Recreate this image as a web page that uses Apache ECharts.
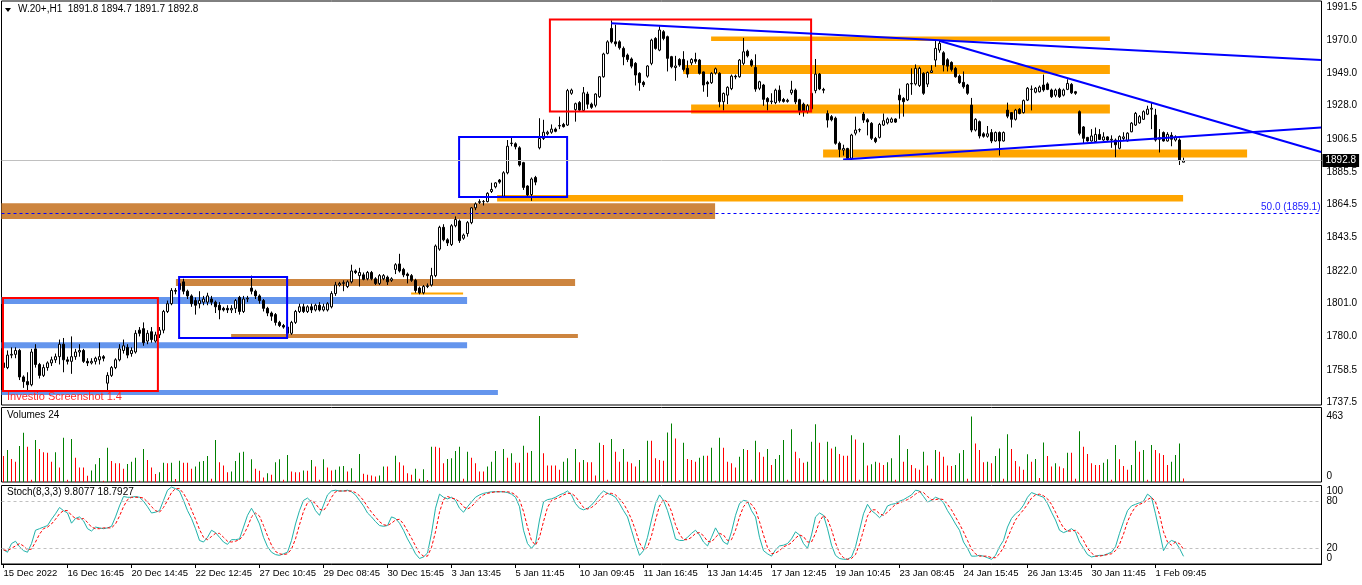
<!DOCTYPE html>
<html><head><meta charset="utf-8">
<script src="https://cdn.jsdelivr.net/npm/echarts@6/dist/echarts.min.js"></script>
<style>html,body{margin:0;padding:0;background:#fff}#c{width:1362px;height:585px}</style>
</head><body><div id="c"></div>
<script>
const timeLabels = ["15 Dec 2022","16 Dec 16:45","20 Dec 14:45","22 Dec 12:45","27 Dec 10:45","29 Dec 08:45","30 Dec 15:45","3 Jan 13:45","5 Jan 11:45","10 Jan 09:45","11 Jan 16:45","13 Jan 14:45","17 Jan 12:45","19 Jan 10:45","23 Jan 08:45","24 Jan 15:45","26 Jan 13:45","30 Jan 11:45","1 Feb 09:45"];
const priceTicks = [1737.5,1758.5,1780.0,1801.0,1822.0,1843.5,1864.5,1885.5,1906.5,1928.0,1949.0,1970.0,1991.5];
const volumeTicks = [0,463];
const stochInnerTicks = [20,80];
const stochOuterTicks = [0,100];
const stochLevels = [20,80];
const symbolName = "W.20+,H1";
const lastPrice = 1892.8;
const fibLevel = 1859.1;
const fibText = "50.0 (1859.1)";

// [open, close, low, high]
const candles = [
[1763,1760,1757,1766],[1760,1768,1759,1771],[1768,1768.5,1766,1773],[1768.5,1771,1766,1773],[1771,1754,1752,1772],
[1754,1751,1747,1755],[1751,1749,1745,1757],[1749,1770,1748,1772],[1772,1762,1760,1775],[1762,1755,1753,1763],
[1755,1760,1754,1762],[1760,1763,1758,1764],[1763,1765,1761,1767],[1765,1767,1763,1769],[1767,1775,1762,1778],
[1775,1765,1757,1779],[1765,1764,1762,1767],[1764,1767,1756,1780],[1767,1770,1765,1772],[1770,1771,1767,1775],
[1771,1764,1763,1772],[1764,1763,1761,1766],[1763,1764,1762,1766],[1764,1766,1762,1767],[1765,1767,1762,1776],
[1767,1766,1764,1768],[1750,1755,1745,1757],[1755,1760,1754,1761],[1760,1765,1759,1766],[1765,1772,1764,1775],
[1771,1774,1769,1778],[1773,1768,1766,1775],[1769,1771,1767,1773],[1770,1782,1769,1784],[1784,1782,1780,1786],
[1785,1776,1774,1789],[1777,1782,1775,1784],[1783,1778,1776,1786],[1777,1781,1776,1783],[1781,1784,1779,1786],
[1784,1796,1782,1797],[1796,1801,1795,1803],[1801,1809.5,1800,1811],[1809.5,1809,1807,1811],[1810,1814,1808,1817],
[1815,1809,1807,1817],[1809,1806,1804,1810],[1806,1801,1799,1807],[1803,1800,1794,1805],[1801,1803,1798,1809],
[1802,1804,1800,1806],[1802,1806,1800,1808],[1804,1802,1800,1806],[1802,1799,1795,1803],[1800,1797,1791,1802],
[1798,1797,1796,1799],[1798,1797,1795,1800],[1797,1798,1795,1800],[1798,1803,1795,1804],[1805,1796,1794,1806],
[1796,1804,1795,1806],[1804,1804.5,1802,1806],[1811,1809,1807,1819],[1809,1806,1804,1810],[1806,1803,1801,1807],
[1803,1798,1796,1804],[1798,1795,1793,1799],[1795,1793,1790,1796],[1794,1789,1787,1795],[1789,1787,1786,1790],
[1787,1786,1785,1788],[1786,1782,1780,1787],[1782,1789,1781,1790],[1789,1796,1788,1797],[1796,1799,1795,1801],
[1799,1796,1795,1801],[1796,1799,1795,1800],[1799,1797,1795,1801],[1797,1800,1796,1801],[1800,1797,1796,1802],
[1797,1799,1796,1801],[1797,1801,1796,1802],[1799,1807.5,1798,1809],[1807.5,1813,1806,1815],[1813,1814,1812,1815],
[1814,1814.5,1809,1816],[1812,1815,1811,1816],[1815,1822,1814,1826],[1822,1821,1820,1823],[1819,1821,1812,1824],
[1819.5,1816.6,1816,1821],[1817,1821,1816,1822],[1821,1817,1816,1822],[1817,1814,1813,1818],[1814,1819,1813,1820],
[1817,1819,1816,1820],[1818,1815,1813,1819],[1816,1817,1815,1818],[1823,1826,1820,1827],[1826.5,1822,1821,1833],
[1823,1819.5,1818,1824],[1820,1819,1814,1821],[1819,1816,1815,1820],[1816,1809.5,1808,1817],[1811,1808,1807,1812],
[1808,1812,1807,1813],[1812,1812.5,1811,1814],[1813,1819,1812,1824],[1819,1838,1818,1839],[1836,1850,1835,1851],
[1850,1842,1841,1852],[1842,1840,1838,1843],[1839,1851,1838,1852],[1851,1855,1850,1857],[1854,1841.5,1840,1855],
[1843,1845,1842,1846],[1846,1853,1844,1854],[1853,1862.5,1852,1863],[1862.5,1865,1861,1866],[1866,1866.5,1865,1868],
[1866.5,1866.5,1864,1867.5],[1866.5,1871.8,1866,1872.5],[1873,1874.3,1872,1878.6],[1876,1878.5,1875,1879],[1880.3,1879,1878,1881],
[1870,1885,1869,1886],[1885,1902,1884,1906],[1904,1903.8,1902,1908],[1903.6,1901.7,1900,1904.5],[1901,1890,1889,1902],
[1891.5,1875.6,1874,1892],[1876.5,1870.7,1869,1877],[1871,1881,1867,1882],[1882,1879,1877,1883],[1901,1907,1900,1920],
[1907,1911,1906,1919],[1910,1911,1909,1912],[1911,1913,1910,1916],[1913,1911.6,1911,1914],[1915,1915.3,1913,1921],
[1916,1914.6,1914,1917],[1915.6,1937.7,1915,1938.8],[1936,1938,1935,1939],[1925.6,1929.3,1917.8,1930],[1930,1925.2,1924,1931],
[1925,1936.3,1924,1940],[1935.5,1929,1926,1937],[1929,1927,1926,1930],[1928.3,1935.5,1927,1936],[1933.8,1946.6,1933,1947],
[1946.6,1961.2,1946,1962],[1961.6,1969,1961,1970],[1977.6,1969,1968,1982.8],[1969,1967.7,1966,1980],[1969,1965.2,1964,1970],
[1964.8,1959.4,1954,1966],[1960.5,1957.7,1956,1961.5],[1958,1953.4,1952,1959],[1955.2,1947.7,1941,1956],[1948.8,1942.8,1937.6,1949.5],
[1943,1941.5,1940,1944],[1947,1953.5,1946,1954],[1955.2,1970.1,1954,1971],[1971.2,1964.8,1964,1972],[1963.7,1976.6,1963,1979],
[1975.5,1971.2,1970,1976.5],[1972.3,1958.4,1950,1973],[1959.5,1953,1952,1960],[1952.5,1953.5,1944,1960],[1957.7,1954.1,1953,1958.5],
[1957.7,1951.3,1950,1963],[1952,1948.3,1946,1957],[1955.5,1957.7,1954,1958.5],[1957.7,1956.5,1955,1962],[1957.3,1948.8,1948,1958],
[1949.7,1941.3,1937,1950],[1943,1942,1933.7,1944],[1942.8,1948.8,1942,1949.5],[1949,1951.7,1948,1952.5],[1948.8,1930.6,1927,1949.5],
[1930.6,1935.9,1925,1936.5],[1934.8,1939.8,1929,1940.5],[1939,1947,1938,1948],[1947,1946.5,1945,1948],[1946.6,1957.3,1946,1958],
[1955.2,1962.6,1954,1971.5],[1963,1960,1959,1964],[1956.9,1954,1953,1958],[1952.6,1938.7,1937,1961],[1939.2,1943.4,1938,1944],
[1941.3,1932.1,1928,1942],[1932.7,1930.6,1925,1933.5],[1930.6,1931,1929,1936],[1930,1938,1929,1939],[1938,1931.2,1930,1941],
[1932,1930.8,1930,1933],[1930.8,1931.5,1930,1932.5],[1936.3,1938.1,1935,1944],[1938,1930.5,1929,1939],[1931.9,1924.7,1922,1932.5],
[1929,1924.5,1921,1930],[1924.5,1928,1923,1929],[1926,1936,1924,1938],[1937.7,1948.3,1936,1958],[1948.3,1938.8,1938,1949],
[1938.5,1938,1936,1939.5],[1923,1918.8,1914,1925],[1921,1919,1918,1922],[1920,1903.9,1903,1921],[1903.9,1900,1895,1905],
[1899.5,1900.6,1896,1903],[1900.6,1894.3,1892.6,1901],[1894.3,1909.2,1893,1910],[1910.4,1912.4,1909,1921],[1912.5,1912.7,1911,1913.5],
[1922.7,1918.8,1917,1924],[1919,1917.6,1909,1920],[1916.7,1907.1,1906,1917.5],[1907,1905,1904,1908],[1907.7,1916,1907,1917],
[1915.6,1918.4,1915,1923],[1917,1919.5,1916,1920.5],[1917.5,1919.5,1917,1920.5],[1919.5,1917.5,1917,1920],[1934.8,1931.7,1919.7,1939],
[1932.7,1930.6,1921,1933.5],[1931.7,1941.9,1931,1942.5],[1942,1942.3,1935,1952],[1942,1952,1941,1954.5],[1941,1952,1940,1953],
[1948.8,1936,1935,1949.5],[1941.9,1949.3,1940,1950],[1949.3,1950.4,1949,1954],[1957.3,1964.8,1953,1969.5],[1963.7,1968,1962,1970],
[1962,1954.1,1950,1963],[1957.5,1953.4,1950,1958.5],[1955.8,1951.3,1950,1956.5],[1952,1946.6,1946,1953],[1947,1942.8,1942,1948],
[1943,1940.2,1939,1950],[1941.3,1936,1935,1942],[1928.4,1912.4,1911,1933],[1912.4,1919.3,1911.5,1920],[1917.8,1908.6,1907,1918.5],
[1910,1908.4,1907.5,1911],[1908.4,1910,1907.5,1915],[1910.8,1905.4,1904,1913],[1905.4,1910.8,1905,1911.5],[1910.8,1905.4,1896,1911.5],
[1905.4,1910.8,1905,1911.5],[1925.2,1921.3,1920,1930],[1923.6,1919.3,1914,1924],[1919.3,1925.2,1918.5,1926],[1925.7,1923.1,1922.5,1926.5],
[1923.6,1931.3,1923,1932],[1931.6,1939.2,1931,1940],[1938.5,1938.6,1925,1941],[1936.7,1939.2,1936,1940],[1937,1940,1936.5,1941],
[1941.3,1938.1,1937,1948],[1942,1938.5,1938,1943],[1938.1,1933.8,1933,1939],[1934.8,1938,1933.5,1939],[1938.5,1933.8,1933,1939.5],
[1934.8,1938.1,1934,1939],[1938.5,1942.3,1938,1945],[1941.7,1936.3,1935.5,1942.5],[1937,1936,1935,1937.5],[1924.2,1910.3,1909,1925],
[1914.4,1907.1,1904,1915],[1907.7,1905.4,1905,1908],[1905.4,1908.6,1905,1913],[1905,1909.6,1904.5,1914],[1909.6,1906.4,1906,1913],
[1906,1908,1905.5,1911],[1908,1906,1905.5,1908.5],[1906,1906.5,1901,1909],[1906,1903,1895,1907],[1900.7,1908.2,1900,1909],
[1907,1908,1906,1911],[1905.4,1910.4,1905,1911],[1911.3,1916.8,1911,1917.5],[1915.6,1923.1,1915,1924],[1917,1921,1916.5,1922],
[1919.3,1924.2,1919,1925],[1922.6,1925.8,1922,1928],[1925.8,1926.4,1913,1930],[1922,1906,1905,1926],[1906.5,1907.5,1898,1913],
[1910.8,1905.4,1905,1911.5],[1905.4,1909.6,1905,1911],[1909,1906.5,1902,1911],[1906,1908,1905,1909],[1906,1893.2,1890,1907],
[1891.8,1892.8,1891.7,1894.7]
];

const volumes = [
183,224,162,143,252,345,247,16,294,231,
208,206,143,208,102,310,16,301,171,102,
102,44,81,125,169,9,241,148,132,132,
93,127,143,171,9,231,155,102,56,69,
136,132,136,21,150,136,136,93,109,143,
148,183,23,294,139,116,69,74,148,206,
213,9,160,93,79,32,62,51,139,160,
16,190,74,69,69,81,79,155,109,16,
160,102,81,86,109,113,74,97,9,197,
58,51,46,39,46,109,109,9,185,139,
116,62,51,93,23,90,14,247,247,241,
132,162,167,217,247,23,213,171,132,74,
74,109,143,217,9,231,171,201,136,136,
254,206,217,9,463,201,116,116,116,86,
143,167,12,231,139,155,139,139,46,275,
259,16,301,213,143,231,143,132,109,155,
9,289,289,167,155,150,347,410,305,12,
275,162,155,143,171,185,185,241,9,310,
241,143,132,102,178,231,224,16,289,208,
178,231,120,162,190,294,16,370,213,167,
136,143,282,405,275,16,282,236,247,197,
185,185,328,298,16,275,116,125,143,136,
120,139,167,16,328,143,231,120,97,86,
213,116,23,224,213,178,116,113,120,201,
224,23,460,271,224,139,143,132,183,236,
23,335,231,148,109,86,194,143,162,28,
278,183,109,132,109,97,206,206,23,356,
247,197,132,120,120,136,160,16,259,160,
113,86,120,289,213,224,16,259,224,201,
190,120,143,190,271,24
];

const stochK = [
18,15,26,29,22,17,15,26,43,45,
47,49,57,64,72,68,65,52,58,60,
55,45,42,47,46,45,46,48,60,74,
86,85,85,86,85,80,73,65,66,68,
81,94,98,96,93,81,68,58,45,30,
28,34,43,40,34,28,25,31,31,32,
47,62,71,62,51,34,22,15,12,11,
13,15,30,51,68,81,84,79,68,62,
75,88,93,94,93,93,94,92,88,81,
74,65,60,54,49,48,49,60,58,52,
43,32,23,13,7,9,14,39,71,89,
85,83,85,81,71,66,73,79,85,88,
90,91,92,92,92,92,91,89,85,73,
43,26,20,26,56,79,82,83,85,88,
90,93,88,77,71,69,71,75,81,88,
93,90,88,85,77,68,60,43,26,11,
17,34,56,77,88,81,68,51,32,30,
30,34,39,43,37,28,23,34,46,37,
28,25,41,62,77,81,80,68,60,34,
17,13,10,18,23,24,26,32,41,37,
26,20,37,60,65,62,45,24,11,7,
6,6,9,22,43,64,76,68,64,59,
64,74,76,77,80,82,85,88,94,93,
86,79,81,85,83,78,68,60,51,43,
28,20,10,10,11,10,8,6,11,22,
30,47,58,64,68,75,85,91,89,87,
85,77,66,56,43,40,42,45,41,28,
20,12,9,10,11,11,13,15,22,39,
54,68,74,76,78,80,89,85,64,41,
17,26,30,28,20,9.8077
];

const stochD = [
18,17,20,23,26,23,18,19,28,38,
45,47,51,57,64,68,68,62,58,57,
58,53,47,45,45,46,46,46,51,61,
73,82,85,85,85,84,79,73,68,66,
72,81,91,96,96,90,81,69,57,44,
34,31,35,39,39,34,29,28,29,31,
37,47,60,65,61,49,36,24,16,13,
12,13,19,32,50,67,78,81,77,70,
68,75,85,92,93,93,93,93,91,87,
81,73,66,60,54,50,49,52,56,57,
51,42,33,23,14,10,10,21,41,66,
82,86,84,83,79,73,70,73,79,84,
88,90,91,92,92,92,92,91,88,82,
67,47,30,24,34,54,72,81,83,85,
88,90,90,86,79,72,70,72,76,81,
87,90,90,88,83,77,68,57,43,27,
18,21,36,56,74,82,79,67,50,38,
31,31,34,39,40,36,29,28,34,39,
37,30,31,43,60,73,79,76,69,54,
37,21,13,14,17,22,24,27,33,37,
35,28,28,39,54,62,57,44,27,14,
8,6,7,12,25,43,61,69,69,64,
62,66,71,76,78,80,82,85,89,92,
91,86,82,82,83,82,76,69,60,51,
41,30,19,13,10,10,10,8,8,13,
21,33,45,56,63,69,76,84,88,89,
87,83,76,66,55,46,42,42,43,38,
30,20,14,10,10,11,12,13,17,25,
38,54,65,73,76,78,82,85,79,63,
41,28,24,28,26,18.7927
];

// chart objects: [startBar, endBar, lowPrice, highPrice]
const blueZones = [[-0.5,115.9,1800.8,1805.3],[-0.5,115.9,1772.4,1776.3],[-0.5,123.6,1742.4,1745.6]];
const brownZones = [[43.1,142.9,1812.3,1816.8],[56.9,143.6,1779.0,1781.5],[-0.5,177.9,1855.3,1865.5]];
const orangeZones = [[101.9,114.9,1806.9,1808.2],[123.4,294.9,1866.6,1870.7],[176.9,276.6,1969.5,1972.4],[169.9,276.6,1948.3,1954.1],[171.9,276.6,1923.0,1928.8],[204.9,310.9,1894.8,1899.9]];
const redBoxes = [[-0.125,38.6,1745.0,1804.7],[136.6,201.9,1924.3,1983.3]];
const blueBoxes = [[43.9,70.9,1779.0,1818.1],[113.9,140.9,1869.4,1907.9]];
// [bar1, price1, bar2, price2]
const trendLines = [[151.9,1980.85,329.4,1957.3],[234.1,1969.5,329.4,1898.3],[209.9,1893.5,329.4,1914.0]];

const SLOTS = 330;
const categories = Array.from({length: SLOTS}, (_, i) => String(i));
const FONT = '"Liberation Sans", Arial, sans-serif';
const FS = 10;
const labelEvery = 16;
const showLab = (idx) => idx % labelEvery === 0 && idx / labelEvery < timeLabels.length;

const chart = echarts.init(document.getElementById('c'), null, {renderer: 'canvas'});

function areaSeries(data, color, z) {
  return {
    type: 'custom', xAxisIndex: 3, yAxisIndex: 0, data: data, z: z, silent: true, animation: false, clip: true,
    renderItem: function (params, api) {
      const a = api.coord([api.value(0), api.value(3)]);
      const b = api.coord([api.value(1), api.value(2)]);
      return {type: 'rect', shape: {x: a[0], y: a[1], width: b[0] - a[0], height: b[1] - a[1]}, style: {fill: color}};
    }
  };
}
function boxSeries(data, color, z) {
  return {
    type: 'custom', xAxisIndex: 3, yAxisIndex: 0, data: data, z: z, silent: true, animation: false, clip: true,
    renderItem: function (params, api) {
      const a = api.coord([api.value(0), api.value(3)]);
      const b = api.coord([api.value(1), api.value(2)]);
      return {type: 'rect', shape: {x: a[0], y: a[1], width: b[0] - a[0], height: b[1] - a[1]}, style: {fill: 'none', stroke: color, lineWidth: 2}};
    }
  };
}
function lineSeries(data, color, z) {
  return {
    type: 'custom', xAxisIndex: 3, yAxisIndex: 0, data: data, z: z, silent: true, animation: false, clip: true,
    renderItem: function (params, api) {
      const a = api.coord([api.value(0), api.value(1)]);
      const b = api.coord([api.value(2), api.value(3)]);
      return {type: 'line', shape: {x1: a[0], y1: a[1], x2: b[0], y2: b[1]}, style: {stroke: color, lineWidth: 2}};
    }
  };
}

const last = candles[candles.length - 1];
const headerText = symbolName + '  ' + [last[0], last[3], last[2], last[1]].map(v => v.toFixed(1)).join(' ');
const volumeData = volumes.map((v, i) => [i, v]);

const gridCommon = {left: 1.5, width: 1320, show: true, borderColor: '#000', borderWidth: 1, backgroundColor: '#fff'};
const hiddenCat = (g) => ({type: 'category', gridIndex: g, data: categories, boundaryGap: true,
  axisLine: {show: false}, axisTick: {show: false}, axisLabel: {show: false}, splitLine: {show: false}});
const lab = {fontFamily: FONT, fontSize: FS, color: '#000'};
const noAxisDecor = {axisLine: {show: false}, splitLine: {show: false}, axisTick: {show: false}};

const option = {
  animation: false,
  backgroundColor: '#fff',
  grid: [
    Object.assign({top: 1, height: 404}, gridCommon),
    Object.assign({top: 407.5, height: 74.5}, gridCommon),
    Object.assign({top: 485.5, height: 78.5}, gridCommon)
  ],
  xAxis: [
    hiddenCat(0),
    hiddenCat(1),
    {type: 'category', gridIndex: 2, data: categories, boundaryGap: true,
      axisLine: {show: true, lineStyle: {color: '#000', width: 1}},
      axisTick: {show: true, interval: showLab, alignWithLabel: true, length: 4, lineStyle: {color: '#000'}},
      axisLabel: {show: true, interval: showLab, align: 'left', margin: 4, fontFamily: FONT, fontSize: 9.5, color: '#000',
        formatter: (v, idx) => timeLabels[idx / labelEvery] || ''},
      splitLine: {show: false}},
    {type: 'value', gridIndex: 0, min: -0.5, max: SLOTS - 0.5, show: false}
  ],
  yAxis: [
    Object.assign({type: 'value', gridIndex: 0, position: 'right', min: 1736.0, max: 1995.2,
      axisLabel: Object.assign({customValues: priceTicks, margin: 5, showMinLabel: true, showMaxLabel: true, formatter: v => v.toFixed(1)}, lab)}, noAxisDecor),
    Object.assign({type: 'value', gridIndex: 1, position: 'right', min: 0, max: 523,
      axisLabel: Object.assign({customValues: volumeTicks, margin: 5, showMinLabel: true, showMaxLabel: true,
        formatter: v => v === 0 ? '{b|0}' : '{m|' + v + '}',
        rich: {b: Object.assign({padding: [0, 0, 12, 0]}, lab), m: Object.assign({}, lab)}}, lab)}, noAxisDecor),
    Object.assign({type: 'value', gridIndex: 2, position: 'right', min: 0, max: 100,
      axisLabel: Object.assign({customValues: stochInnerTicks, margin: 5, showMinLabel: true, showMaxLabel: true}, lab)}, noAxisDecor),
    Object.assign({type: 'value', gridIndex: 2, position: 'right', min: 0, max: 100,
      axisLabel: Object.assign({customValues: stochOuterTicks, margin: 5, showMinLabel: true, showMaxLabel: true,
        formatter: v => v === 0 ? '{b|0}' : '{t|' + v + '}',
        rich: {b: Object.assign({padding: [0, 0, 12, 0]}, lab), t: Object.assign({padding: [12, 0, 0, 0]}, lab)}}, lab)}, noAxisDecor)
  ],
  series: [
    areaSeries(blueZones, '#6495ED', 1),
    areaSeries(brownZones, '#CD853F', 1),
    areaSeries(orangeZones, '#FFA500', 1),
    {
      type: 'candlestick', xAxisIndex: 0, yAxisIndex: 0, data: candles, z: 2, barWidth: 2.2,
      itemStyle: {color: '#fff', color0: '#000', borderColor: '#000', borderColor0: '#000', borderWidth: 1},
      markLine: {
        silent: true, symbol: ['none', 'none'], animation: false,
        data: [
          {yAxis: fibLevel, lineStyle: {color: '#0000FF', type: [3, 3], width: 1},
            label: {show: true, position: 'insideEndTop', formatter: fibText, color: '#2020FF', fontFamily: FONT, fontSize: FS, distance: 1}},
          {yAxis: lastPrice, lineStyle: {color: '#C0C0C0', type: 'solid', width: 1},
            label: {show: true, position: 'end', formatter: lastPrice.toFixed(1), color: '#fff', backgroundColor: '#000',
              padding: [2, 3, 1, 3], fontFamily: FONT, fontSize: FS, distance: 1}}
        ]
      }
    },
    boxSeries(redBoxes, '#FF0000', 3),
    boxSeries(blueBoxes, '#0000FF', 3),
    lineSeries(trendLines, '#0000FF', 3),
    {
      type: 'custom', xAxisIndex: 1, yAxisIndex: 1, data: volumeData, z: 2, silent: true, animation: false,
      encode: {x: 0, y: 1},
      renderItem: function (params, api) {
        const i = api.value(0);
        const v = api.value(1);
        const top = api.coord([i, v]);
        const base = api.coord([i, 0]);
        const up = i > 0 && v > volumes[i - 1];
        const x = Math.floor(top[0]);
        return {type: 'rect', shape: {x: x, y: top[1], width: 1, height: base[1] - top[1]},
          style: {fill: up ? '#008000' : '#FF0000'}};
      }
    },
    {
      type: 'line', xAxisIndex: 2, yAxisIndex: 2, data: stochK, showSymbol: false, z: 3,
      lineStyle: {color: '#20B2AA', width: 1}, itemStyle: {color: '#20B2AA'},
      markLine: {silent: true, symbol: ['none', 'none'], animation: false, label: {show: false},
        lineStyle: {color: '#C0C0C0', type: [3, 3], width: 1},
        data: stochLevels.map(v => ({yAxis: v}))}
    },
    {
      type: 'line', xAxisIndex: 2, yAxisIndex: 2, data: stochD, showSymbol: false, z: 3,
      lineStyle: {color: '#FF0000', width: 1, type: [3, 2]}, itemStyle: {color: '#FF0000'}
    }
  ],
  graphic: [
    {type: 'polygon', shape: {points: [[5, 8], [11, 8], [8, 12]]}, style: {fill: '#000'}, z: 10},
    {type: 'text', left: 18, top: 4, z: 10, style: {text: headerText, fill: '#000', font: FS + 'px ' + FONT}},
    {type: 'text', left: 7, top: 410, z: 10, style: {text: 'Volumes ' + volumes[volumes.length - 1], fill: '#000', font: FS + 'px ' + FONT}},
    {type: 'text', left: 7, top: 487, z: 10, style: {text: 'Stoch(8,3,3) ' + stochK[stochK.length - 1].toFixed(4) + ' ' + stochD[stochD.length - 1].toFixed(4), fill: '#000', font: FS + 'px ' + FONT}},
    {type: 'text', left: 7, top: 391, z: 10, style: {text: 'Investio Screenshot 1.4', fill: '#FF2A2A', font: '11px ' + FONT}}
  ]
};
chart.setOption(option);
</script>
</body></html>
